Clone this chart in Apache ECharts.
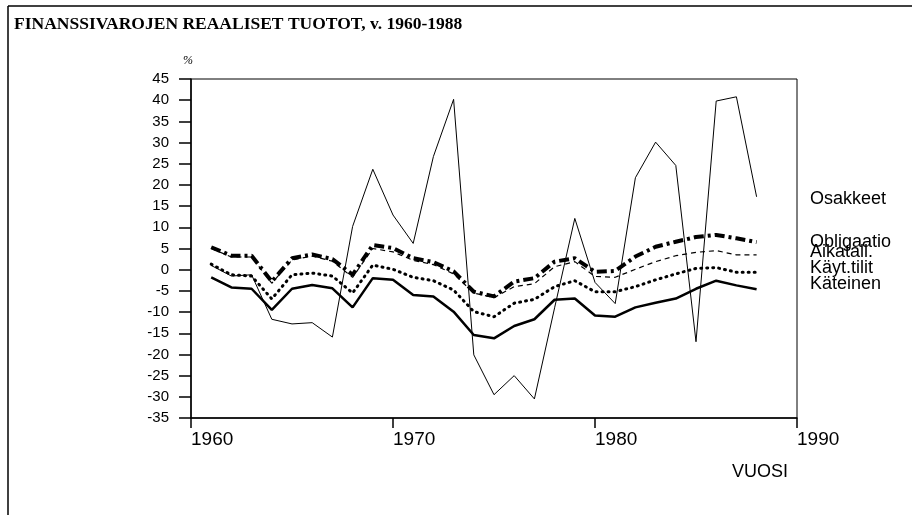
<!DOCTYPE html>
<html>
<head>
<meta charset="utf-8">
<script src="https://cdn.jsdelivr.net/npm/echarts@6/dist/echarts.min.js"></script>
<style>
  html, body { margin: 0; padding: 0; background: #fff; }
  #main { width: 912px; height: 515px; }
</style>
</head>
<body>
<div id="main"></div>
<script>
var years = [1961, 1962, 1963, 1964, 1965, 1966, 1967, 1968, 1969, 1970,
  1971, 1972, 1973, 1974, 1975, 1976, 1977, 1978, 1979, 1980,
  1981, 1982, 1983, 1984, 1985, 1986, 1987, 1988];

var osakkeet = [1, -1.5, -1.2, -11.7, -12.8, -12.5, -15.9, 10.2, 23.7, 12.9,
  6.2, 26.7, 40.2, -20.1, -29.5, -25.0, -30.5, -9, 12.1, -3,
  -8, 21.7, 30.1, 24.6, -17.0, 39.8, 40.8, 17.2];
var obligaatio = [5.3, 3.3, 3.3, -2.8, 2.7, 3.6, 2.5, -1.2, 5.8, 5.1,
  2.7, 1.8, -0.4, -5.2, -6.3, -2.8, -2.0, 1.9, 2.7, -0.5,
  -0.3, 3.1, 5.4, 6.6, 7.7, 8.2, 7.4, 6.5];
var aikatalletus = [5.0, 3.0, 3.0, -3.2, 2.3, 3.2, 2.0, -1.8, 5.0, 4.2,
  2.2, 1.2, -1.0, -5.5, -6.6, -4.0, -3.3, 0.7, 1.9, -1.6,
  -1.8, 0.1, 1.9, 3.3, 4.1, 4.5, 3.5, 3.5];
var kaytTilit = [1.3, -1.2, -1.5, -6.9, -1.2, -0.8, -1.5, -5.5, 1.1, 0.1,
  -1.8, -2.6, -4.8, -9.9, -11.1, -7.9, -7.0, -4.0, -2.6, -5.2,
  -5.2, -4.0, -2.4, -1.0, 0.3, 0.5, -0.6, -0.6];
var kateinen = [-1.8, -4.2, -4.5, -9.5, -4.5, -3.6, -4.4, -8.9, -2.0, -2.4,
  -6.0, -6.3, -9.9, -15.4, -16.2, -13.3, -11.7, -7.1, -6.8, -10.8,
  -11.1, -8.9, -7.8, -6.8, -4.5, -2.6, -3.7, -4.6];

var seriesNames = ["Osakkeet", "Obligaatio", "Aikatall.", "Käyt.tilit", "Käteinen"];
var labelY = [200, 243, 253, 269, 285];

function pairs(vals) {
  return years.map(function (y, i) { return [y, vals[i]]; });
}

var myChart = echarts.init(document.getElementById("main"));

var sans = "Liberation Sans, Arial, sans-serif";

myChart.setOption({
  animation: false,
  backgroundColor: "#fff",
  grid: {
    left: 191, right: 115, top: 79, bottom: 97,
    show: true, borderColor: "#000", borderWidth: 1
  },
  xAxis: {
    type: "value",
    min: 1960, max: 1990, interval: 10,
    axisLine: { onZero: false, lineStyle: { color: "#000", width: 1.5 } },
    axisTick: { length: 10, lineStyle: { color: "#000", width: 1.5 } },
    splitLine: { show: false },
    axisLabel: {
      color: "#000", fontFamily: sans, fontSize: 19,
      align: "left", margin: 12,
      formatter: function (v) { return String(v); }
    }
  },
  yAxis: {
    type: "value",
    min: -35, max: 45, interval: 5,
    axisLine: { onZero: false, lineStyle: { color: "#000", width: 1.5 } },
    axisTick: { length: 12, lineStyle: { color: "#000", width: 1.5 } },
    splitLine: { show: false },
    axisLabel: { color: "#000", fontFamily: sans, fontSize: 15, margin: 22 }
  },
  graphic: [
    { type: "line", shape: { x1: 8, y1: 6, x2: 912, y2: 6 }, style: { stroke: "#000", lineWidth: 1.5 } },
    { type: "line", shape: { x1: 8, y1: 6, x2: 8, y2: 515 }, style: { stroke: "#000", lineWidth: 1.5 } },
    {
      type: "text", left: 14, top: 15,
      style: {
        text: "FINANSSIVAROJEN REAALISET TUOTOT, v. 1960-1988",
        font: "bold 17.5px 'Liberation Serif', 'Times New Roman', serif",
        fill: "#000"
      }
    },
    {
      type: "text", left: 183, top: 55,
      style: { text: "%", font: "italic 12px 'Liberation Serif', serif", fill: "#000" }
    },
    {
      type: "text", left: 732, top: 463,
      style: { text: "VUOSI", font: "18px " + sans, fill: "#000" }
    }
  ].concat(seriesNames.map(function (name, i) {
    return {
      type: "text", left: 810, top: labelY[i] - 10,
      style: { text: name, font: "18px " + sans, fill: "#000" }
    };
  })),
  series: [
    {
      name: seriesNames[0], type: "line", data: pairs(osakkeet),
      symbol: "none", lineStyle: { color: "#000", width: 1 }, z: 5
    },
    {
      name: seriesNames[1], type: "line", data: pairs(obligaatio),
      symbol: "none",
      lineStyle: { color: "#000", width: 4, type: [10, 4, 3, 4] }, z: 3
    },
    {
      name: seriesNames[2], type: "line", data: pairs(aikatalletus),
      symbol: "none",
      lineStyle: { color: "#000", width: 1.2, type: [5, 4] }, z: 4
    },
    {
      name: seriesNames[3], type: "line", data: pairs(kaytTilit),
      symbol: "none",
      lineStyle: { color: "#000", width: 3, type: [1, 5], cap: "round" }, z: 4
    },
    {
      name: seriesNames[4], type: "line", data: pairs(kateinen),
      symbol: "none", lineStyle: { color: "#000", width: 2.5 }, z: 4
    }
  ]
});
</script>
</body>
</html>
